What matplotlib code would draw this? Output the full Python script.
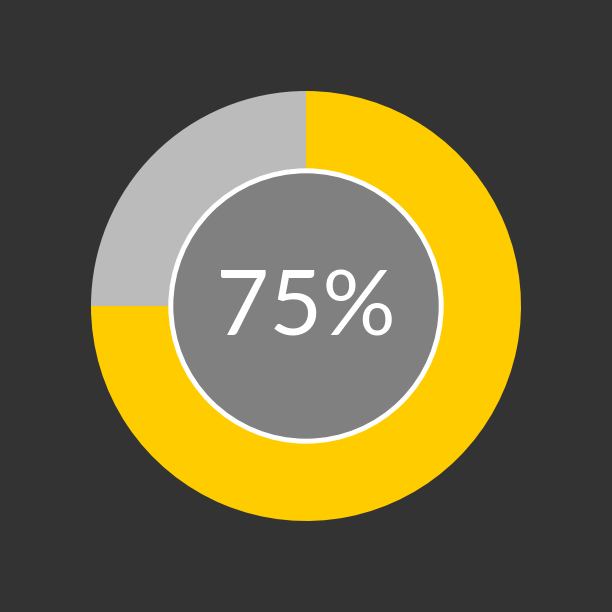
import matplotlib.pyplot as plt
from matplotlib.patches import Circle

# progress donut data
values = [75, 25]
colors = ['#FFCC00', '#BBBBBB']
label = '75%'

fig = plt.figure(figsize=(6.12, 6.12), dpi=100)
fig.patch.set_facecolor('#333333')
ax = fig.add_axes([0, 0, 1, 1])
ax.set_facecolor('#333333')

lim = 306 / 215
ax.pie(values, colors=colors, startangle=90, counterclock=False, radius=1,
       wedgeprops=dict(width=1 - 137 / 215, linewidth=0))

# white ring and grey centre
ax.add_patch(Circle((0, 0), 137 / 215, color='white', zorder=3))
ax.add_patch(Circle((0, 0), 132 / 215, color='#808080', zorder=4))

ax.text(0, -0.02, label, color='white', fontsize=66, family='Lato',
        fontweight='normal', ha='center', va='center', zorder=5)

ax.set_xlim(-lim, lim)
ax.set_ylim(-lim, lim)
ax.set_aspect('equal')
ax.axis('off')

fig.savefig('out.png', dpi=100, facecolor=fig.get_facecolor())
